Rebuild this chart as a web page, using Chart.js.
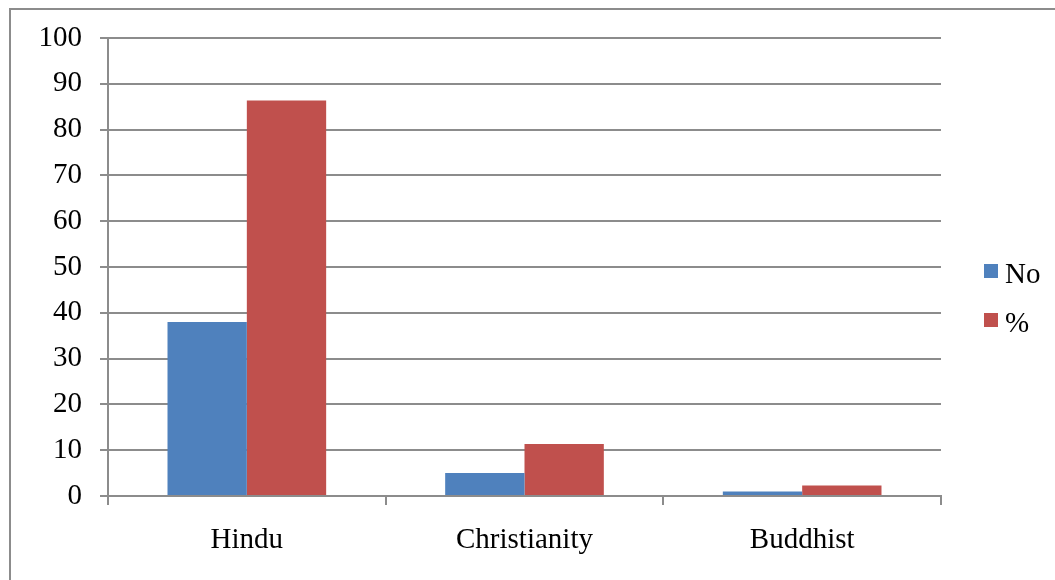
<!DOCTYPE html>
<html>
<head>
<meta charset="utf-8">
<script src="https://cdn.jsdelivr.net/npm/chart.js@4"></script>
<style>
html,body{margin:0;padding:0;background:#fff;}
canvas{display:block;}
</style>
</head>
<body>
<canvas id="c" width="1055" height="580"></canvas>
<script>
const categories = ["Hindu", "Christianity", "Buddhist"];
const seriesNo = [38, 5, 1];
const seriesPct = [86.36, 11.36, 2.27];
const yTicks = [0, 10, 20, 30, 40, 50, 60, 70, 80, 90, 100];

const FONT = '"Liberation Serif", "Times New Roman", serif';
const GRID = '#8c8c8c';

const framePlugin = {
  id: 'frame',
  beforeDraw(chart) {
    const ctx = chart.ctx;
    ctx.save();
    ctx.fillStyle = '#fff';
    ctx.fillRect(0, 0, chart.width, chart.height);
    ctx.strokeStyle = GRID;
    ctx.lineWidth = 2;
    ctx.strokeRect(10, 9, 3000, 3000);
    ctx.restore();
  }
};

const sideLegend = {
  id: 'sideLegend',
  afterDraw(chart) {
    const ctx = chart.ctx;
    ctx.save();
    chart.data.datasets.forEach((ds, i) => {
      const y = 271 + i * 49;
      ctx.fillStyle = ds.backgroundColor;
      ctx.fillRect(984, y - 7, 14, 14);
      ctx.fillStyle = '#000';
      ctx.font = '29px ' + FONT;
      ctx.textBaseline = 'alphabetic';
      ctx.textAlign = 'left';
      ctx.fillText(ds.label, 1005, y + 12);
    });
    ctx.restore();
  }
};

new Chart(document.getElementById('c'), {
  type: 'bar',
  data: {
    labels: categories,
    datasets: [
      { label: 'No', data: seriesNo, backgroundColor: '#4F81BD' },
      { label: '%', data: seriesPct, backgroundColor: '#C0504D' }
    ]
  },
  options: {
    responsive: false,
    animation: false,
    devicePixelRatio: 1,
    layout: { padding: { top: 38, right: 114, left: 0, bottom: 0 } },
    datasets: { bar: { categoryPercentage: 0.5714, barPercentage: 1.0 } },
    plugins: { legend: { display: false }, tooltip: { enabled: false } },
    scales: {
      x: {
        offset: true,
        grid: { display: true, drawOnChartArea: false, drawTicks: true, tickLength: 9, color: GRID, lineWidth: 2 },
        border: { display: true, color: GRID, width: 2 },
        ticks: { color: '#000', font: { family: FONT, size: 29 }, padding: 18, maxRotation: 0 },
        afterFit(scale) { scale.height = 84; }
      },
      y: {
        min: 0, max: 100,
        afterBuildTicks(scale) { scale.ticks = yTicks.map(v => ({ value: v })); },
        grid: { color: GRID, lineWidth: 2, tickLength: 8, drawTicks: true },
        border: { display: true, color: GRID, width: 2 },
        ticks: { color: '#000', font: { family: FONT, size: 29 }, padding: 18 },
        afterFit(scale) { scale.width = 108; }
      }
    }
  },
  plugins: [framePlugin, sideLegend]
});
</script>
</body>
</html>
